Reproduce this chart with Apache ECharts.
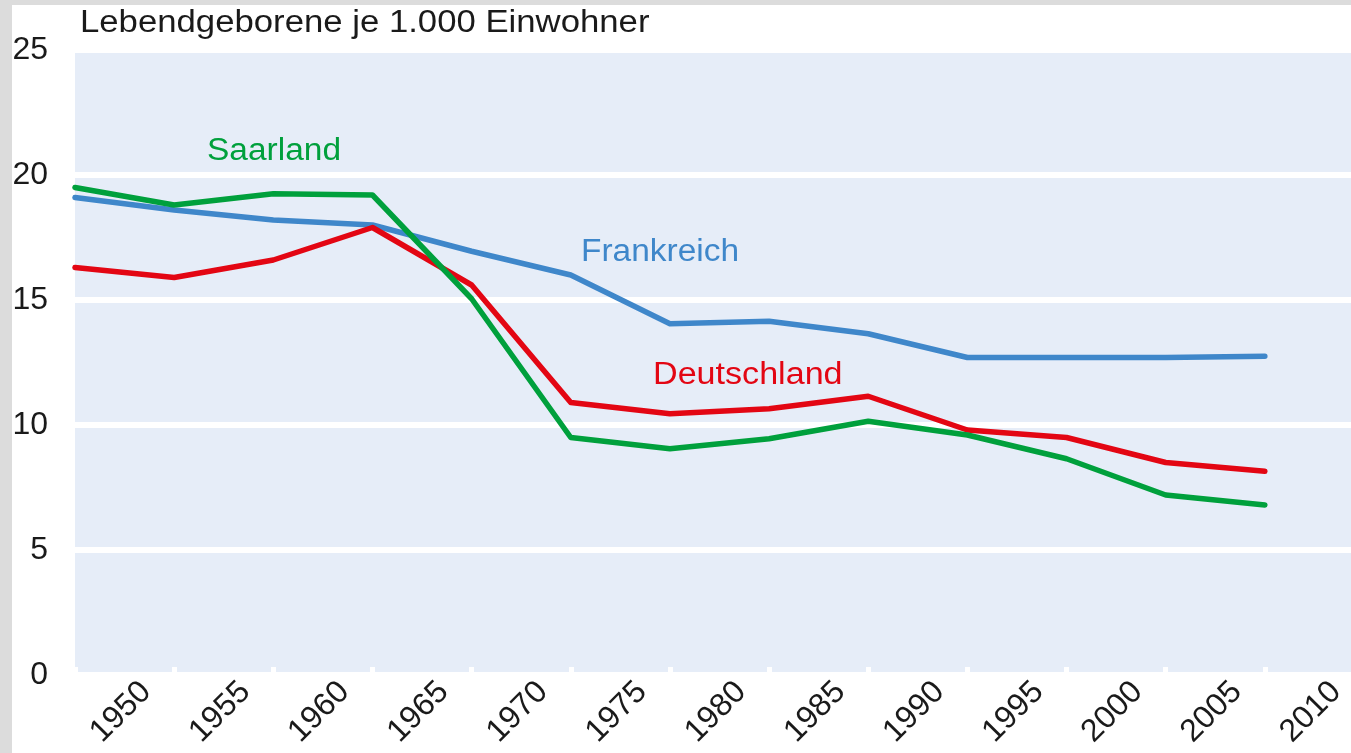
<!DOCTYPE html>
<html>
<head>
<meta charset="utf-8">
<title>Lebendgeborene je 1.000 Einwohner</title>
<script src="https://cdn.jsdelivr.net/npm/echarts@6/dist/echarts.min.js"></script>
<style>
    html, body {margin: 0; padding: 0; background: #fff;}
    #birthRateChart {width: 1351px; height: 753px;}
</style>
</head>
<body>
<div id="birthRateChart"></div>
<script>
// Jahre (Position der Messpunkte auf der x-Achse)
var years = [1945, 1950, 1955, 1960, 1965, 1970, 1975, 1980, 1985, 1990, 1995, 2000, 2005];
// Lebendgeborene je 1.000 Einwohner
var frankreich = [19.1, 18.6, 18.2, 18.0, 16.95, 16.0, 14.05, 14.15, 13.65, 12.7, 12.7, 12.7, 12.75];
var deutschland = [16.3, 15.9, 16.6, 17.9, 15.6, 10.9, 10.45, 10.65, 11.15, 9.8, 9.5, 8.5, 8.15];
var saarland = [19.5, 18.8, 19.25, 19.2, 15.05, 9.5, 9.05, 9.45, 10.15, 9.6, 8.65, 7.2, 6.8];
// Achsenbeschriftung
var yTicks = [0, 5, 10, 15, 20, 25];
var xTickLabels = [1950, 1955, 1960, 1965, 1970, 1975, 1980, 1985, 1990, 1995, 2000, 2005, 2010];

function pairs(values) {
    var out = [];
    for (var i = 0; i < values.length; i++) {
        out.push([years[i], values[i]]);
    }
    return out;
}

var chart = echarts.init(document.getElementById('birthRateChart'));
var font = '"Liberation Sans", Arial, sans-serif';

var lineStyle = function (color) {
    return {color: color, width: 5.5, cap: 'round', join: 'round'};
};

var option = {
    animation: false,
    backgroundColor: '#fff',
    textStyle: {fontFamily: font},
    grid: [
        // Zeichenfläche (läuft rechts über den Rand hinaus bis 2010)
        {left: 75, width: 1289, top: 50, bottom: 78, outerBoundsMode: 'none', containLabel: false,
            show: true, backgroundColor: '#E6EDF8', borderWidth: 0},
        // nur für die schräge Jahresbeschriftung, leicht nach links versetzt
        {left: 47, width: 1289, top: 50, bottom: 78, outerBoundsMode: 'none', containLabel: false, show: false}
    ],
    xAxis: [
        {
            type: 'value', gridIndex: 0, min: 1945, max: 2010, interval: 5,
            axisLine: {show: false},
            axisTick: {show: true, inside: true, length: 8, lineStyle: {color: '#fff', width: 5}},
            axisLabel: {show: false},
            splitLine: {show: false}
        },
        {
            type: 'value', gridIndex: 1, min: 1945, max: 2010, interval: 5,
            axisLine: {show: false},
            axisTick: {show: false},
            splitLine: {show: false},
            axisLabel: {
                rotate: 45, margin: 12, fontSize: 32, color: '#1a1a1a', fontFamily: font,
                showMinLabel: false,
                formatter: function (v) {
                    return xTickLabels.indexOf(v) >= 0 ? String(v) : '';
                }
            }
        }
    ],
    yAxis: [
        {
            type: 'value', gridIndex: 0, min: yTicks[0], max: yTicks[yTicks.length - 1], interval: 5,
            axisLine: {show: false},
            axisTick: {show: false},
            axisLabel: {margin: 27, fontSize: 32, color: '#1a1a1a', fontFamily: font},
            splitLine: {show: true, lineStyle: {color: '#fff', width: 6}}
        },
        {
            type: 'value', gridIndex: 1, min: 0, max: 25, show: false
        }
    ],
    series: [
        {
            name: 'Frankreich', type: 'line', xAxisIndex: 0, yAxisIndex: 0,
            showSymbol: false, data: pairs(frankreich), lineStyle: lineStyle('#3F87CA'), z: 3
        },
        {
            name: 'Deutschland', type: 'line', xAxisIndex: 0, yAxisIndex: 0,
            showSymbol: false, data: pairs(deutschland), lineStyle: lineStyle('#E30613'), z: 4
        },
        {
            name: 'Saarland', type: 'line', xAxisIndex: 0, yAxisIndex: 0,
            showSymbol: false, data: pairs(saarland), lineStyle: lineStyle('#00A03C'), z: 5
        }
    ],
    graphic: [
        // grauer Rahmen oben und links
        {type: 'rect', left: 0, top: 0, shape: {width: 1351, height: 5}, style: {fill: '#DCDCDC'}, z: 100},
        {type: 'rect', left: 0, top: 0, shape: {width: 12, height: 753}, style: {fill: '#DCDCDC'}, z: 100},
        // Titel
        {type: 'text', x: 80, y: 23, scaleX: 1.12,
            style: {text: 'Lebendgeborene je 1.000 Einwohner', font: '31px ' + font, fill: '#1a1a1a', textVerticalAlign: 'middle'}},
        // Reihenbeschriftung
        {type: 'text', x: 207, y: 151, scaleX: 1.08,
            style: {text: 'Saarland', font: '31px ' + font, fill: '#00A03C', textVerticalAlign: 'middle'}},
        {type: 'text', x: 581, y: 252, scaleX: 1.08,
            style: {text: 'Frankreich', font: '31px ' + font, fill: '#3F87CA', textVerticalAlign: 'middle'}},
        {type: 'text', x: 653, y: 375, scaleX: 1.1,
            style: {text: 'Deutschland', font: '31px ' + font, fill: '#E30613', textVerticalAlign: 'middle'}}
    ]
};

chart.setOption(option);
</script>
</body>
</html>
